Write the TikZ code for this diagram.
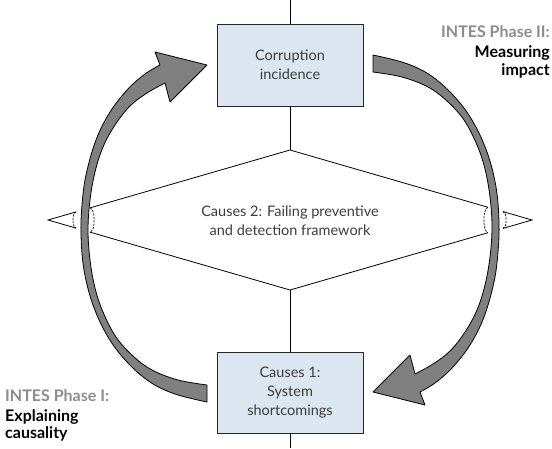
\documentclass[tikz,border=0pt]{standalone}
\usepackage{fontspec}
\setmainfont{Lato}
\usetikzlibrary{calc}

\definecolor{boxblue}{HTML}{DCE6F1}
\definecolor{arrowgrey}{HTML}{808080}
\definecolor{phasegrey}{HTML}{8C8C8C}
\definecolor{textgrey}{HTML}{3C3C3C}

% torn end of the diamond: #3 is the bulge (+ right, - left)
\newcommand\tearmark[3]{\draw[tear] (#1) .. controls +(#3,2) and +(0,-4) .. ($(#1)!0.5!(#2)+(#3,0)$) .. controls +(0,4) and +(#3,-2) .. (#2);}

\begin{document}
\begin{tikzpicture}[
    x=1pt, y=-1pt,
    every node/.style={font=\fontsize{14.5}{19}\selectfont, text=textgrey},
    box/.style={rectangle, draw=black!85, fill=boxblue, line width=0.8pt, minimum width=146pt, minimum height=82pt, align=center, inner sep=0pt},
    link/.style={draw=black, line width=0.8pt},
    tear/.style={draw=black, line width=0.7pt, dash pattern=on 2.2pt off 1.2pt},
    bigarrow/.style={draw=black, fill=arrowgrey, line width=0.8pt, line join=round},
    phase/.style={font=\fontsize{16}{17.5}\selectfont\bfseries, text=black, inner sep=0pt}
]
\useasboundingbox (0,0) rectangle (552,448);

% boxes and diamond text
\node[box] (incid) at (290,65) {Corruption\\incidence};
\node[box, minimum height=81pt] (cause1) at (290,392.5) {Causes 1:\\System\\shortcomings};
\node[align=center] (cause2) at (290,221) {Causes 2: Failing preventive\\and detection framework};

% diamond corners
\coordinate (dN) at (290,150);
\coordinate (dS) at (290,290);
\coordinate (dW) at (48,220);
\coordinate (dE) at (532,220);
\coordinate (lt1) at ($(dN)!.826!(dW)$);
\coordinate (lb1) at ($(dS)!.826!(dW)$);
\coordinate (lt2) at ($(dN)!.884!(dW)$);
\coordinate (lb2) at ($(dS)!.884!(dW)$);
\coordinate (rt1) at ($(dN)!.818!(dE)$);
\coordinate (rb1) at ($(dS)!.818!(dE)$);
\coordinate (rt2) at ($(dN)!.880!(dE)$);
\coordinate (rb2) at ($(dS)!.880!(dE)$);

\draw[link] (lt1) -- (dN) -- (rt1);
\draw[link] (lb1) -- (dS) -- (rb1);
\draw[link] (lt2) -- (dW) -- (lb2);
\draw[link] (rt2) -- (dE) -- (rb2);
\tearmark{lt1}{lb1}{4}
\tearmark{rt1}{rb1}{-4}
\tearmark{lt2}{lb2}{-3}
\tearmark{rt2}{rb2}{3}

% vertical line
\coordinate (topend) at (290,0);
\coordinate (botend) at (290,448);
\draw[link] (topend) -- (incid.north);
\draw[link] (incid.south) -- (dN);
\draw[link] (dS) -- (cause1.north);
\draw[link] (cause1.south) -- (botend);

% phase labels
\node[phase, anchor=north east, align=right] (phase2) at (550,25) {\textcolor{phasegrey}{INTES Phase II:}\\[3pt]Measuring\\impact};
\node[phase, anchor=north west, align=left] (phase1) at (5,389.5) {\textcolor{phasegrey}{INTES Phase I:}\\[2pt]Explaining\\causality};

% the two curved block arrows
\foreach \turn in {0,180}
  \draw[bigarrow, rotate around={\turn:(290,228.5)}]
    plot[smooth, tension=0.6] coordinates {(207,402) (175,394) (150,382) (127,362) (108,337) (93,305) (84,270) (81,235) (82,205) (86,175) (96,140) (110,112) (128,89) (145,74) (160,65)}
    -- (155,52) -- (207,65) -- (170,102) -- (165,83)
    -- plot[smooth, tension=0.6] coordinates {(165,83) (147,93) (130,106) (115,125) (103,147) (95,172) (90,200) (88,230) (90,260) (95,288) (103,312) (116,337) (133,356) (152,370) (178,380) (207,385)}
    -- cycle;
\end{tikzpicture}
\end{document}
